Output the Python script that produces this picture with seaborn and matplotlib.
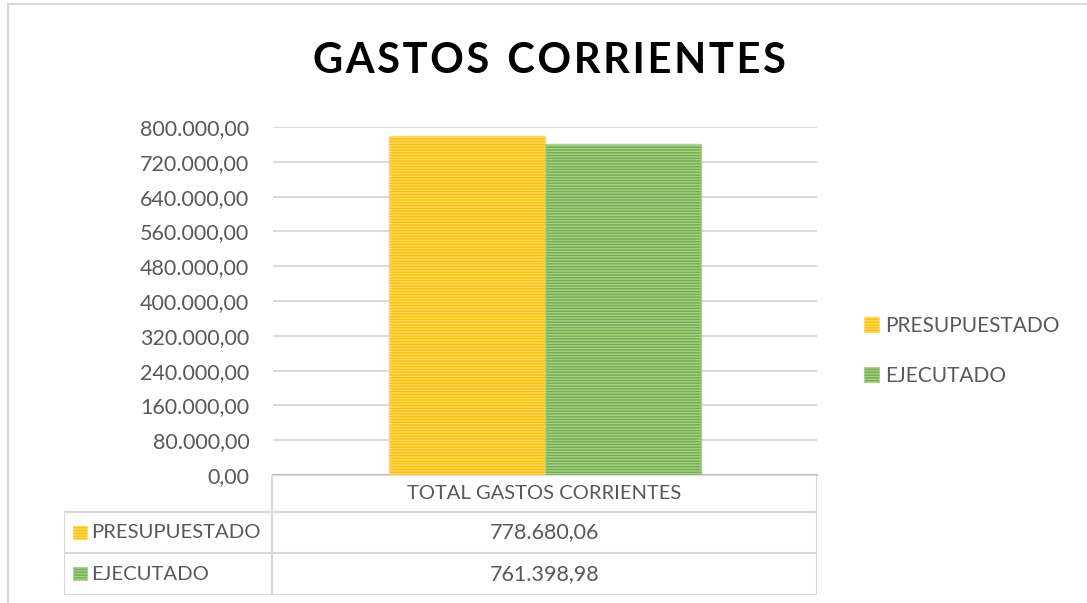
import matplotlib
matplotlib.use("Agg")
import matplotlib.pyplot as plt
from matplotlib.patches import Patch, Rectangle
from matplotlib.lines import Line2D
import seaborn as sns
import pandas as pd

# ---- data ----
categories = ["TOTAL GASTOS CORRIENTES"]
series = ["PRESUPUESTADO", "EJECUTADO"]
presupuestado = [778680.06]
ejecutado = [761398.98]
y_ticks = [0, 80000, 160000, 240000, 320000, 400000, 480000, 560000, 640000, 720000, 800000]
title = "GASTOS CORRIENTES"

face_colors = ["#FFC000", "#70AD47"]
stripe_colors = ["#FFD966", "#A9D08E"]

def fmt(v):
    s = f"{v:,.2f}"
    return s.replace(",", "X").replace(".", ",").replace("X", ".")

df = pd.DataFrame({
    "cat": categories * 2,
    "serie": [series[0]] * len(categories) + [series[1]] * len(categories),
    "val": presupuestado + ejecutado,
})

sns.set_theme(style="white")
plt.rcParams["font.family"] = ["Lato", "DejaVu Sans"]
plt.rcParams["hatch.linewidth"] = 1.0

W, H = 1087, 603
fig = plt.figure(figsize=(W / 100, H / 100), dpi=100)
fig.patch.set_facecolor("white")

def fx(px): return px / W
def fy(py): return 1 - py / H

# outer chart border (cut on right/bottom)
fig.patches.append(Rectangle((fx(8), -0.2), 2, fy(4) + 0.2, transform=fig.transFigure,
                             fill=False, edgecolor="#D9D9D9", lw=1.5, zorder=0))

left, right, top, bottom = 273, 817, 127, 475
ax = fig.add_axes([fx(left), fy(bottom), fx(right - left), (bottom - top) / H])

sns.barplot(data=df, x="cat", y="val", hue="serie", hue_order=series,
            palette=face_colors, width=0.575, gap=0, ax=ax, legend=False,
            saturation=1, zorder=3)

for i, cont in enumerate(ax.containers):
    for p in cont:
        p.set_hatch("-" * 6)
        p.set_edgecolor(stripe_colors[i])
        p.set_linewidth(1.0)

ax.set_ylim(0, 800000)
ax.set_yticks(y_ticks)
ax.set_yticklabels([fmt(v) for v in y_ticks], fontsize=15.5, color="#595959")
ax.set_xticks([])
ax.set_xlabel("")
ax.set_ylabel("")
ax.tick_params(axis="y", length=0, pad=17)
ax.grid(axis="y", color="#D9D9D9", lw=1.3, zorder=0)
ax.set_axisbelow(True)
for s in ["left", "right", "top"]:
    ax.spines[s].set_visible(False)
ax.spines["bottom"].set_color("#BFBFBF")
ax.spines["bottom"].set_linewidth(1.5)

# title with letter spacing
spaced = "\u200a".join(title).replace("\u200a \u200a", "\u2009 \u200a")
fig.text(fx(549), fy(61), spaced, ha="center", va="center", fontsize=30,
         fontweight="bold", color="black")

# legend
handles = [Patch(facecolor=face_colors[i], edgecolor=stripe_colors[i], hatch="-" * 6, lw=0.8)
           for i in range(len(series))]
fig.legend(handles, series, loc="center left", bbox_to_anchor=(fx(864), fy(351)),
           frameon=False, fontsize=15, labelcolor="#595959", handlelength=0.7,
           handleheight=0.75, handletextpad=0.3, labelspacing=1.45,
           borderaxespad=0, borderpad=0)

# data table
tl, tr, tt, tb = 64, 817, 475, 595
tab = fig.add_axes([fx(tl), fy(tb), fx(tr - tl), (tb - tt) / H])
tab.set_xlim(tl, tr)
tab.set_ylim(tb, tt)
tab.axis("off")
split = 272
rows_y = [475, 512, 553, 595]
lc = "#D9D9D9"
lw = 1.5
tab.add_line(Line2D([split, tr], [rows_y[0], rows_y[0]], color=lc, lw=lw))
for yy in rows_y[1:]:
    tab.add_line(Line2D([tl, tr], [yy, yy], color=lc, lw=lw))
tab.add_line(Line2D([tl, tl], [rows_y[1], rows_y[3]], color=lc, lw=lw))
tab.add_line(Line2D([split, split], [rows_y[0], rows_y[3]], color=lc, lw=lw))
tab.add_line(Line2D([tr, tr], [rows_y[0], rows_y[3]], color=lc, lw=lw))

cx = (split + tr) / 2
tab.text(cx, (rows_y[0] + rows_y[1]) / 2, categories[0], ha="center", va="center",
         fontsize=14.5, color="#595959")
vals = [presupuestado[0], ejecutado[0]]
for i in range(len(series)):
    yc = (rows_y[i + 1] + rows_y[i + 2]) / 2
    tab.text(cx, yc, fmt(vals[i]), ha="center", va="center", fontsize=15.5, color="#595959")
    tab.add_patch(Rectangle((73, yc - 7), 14, 13, facecolor=face_colors[i],
                            edgecolor=stripe_colors[i], hatch="-" * 6, lw=0.8))
    tab.text(91, yc, series[i], ha="left", va="center", fontsize=14.6, color="#595959")

fig.savefig("out.png", dpi=100, facecolor="white")
